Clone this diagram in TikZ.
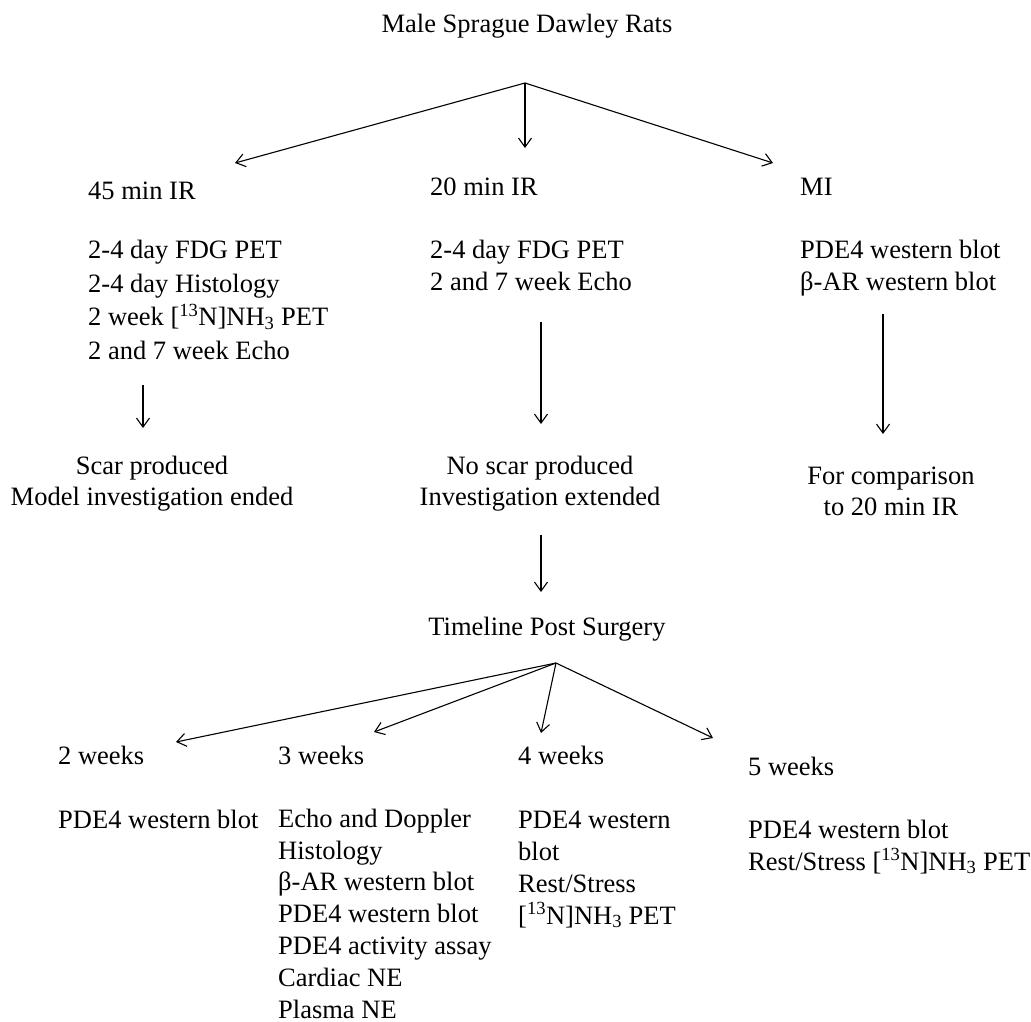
\documentclass[tikz,border=0pt]{standalone}
\usepackage{fontspec}
\setmainfont{Liberation Serif}
\usetikzlibrary{arrows.meta}
\newcommand{\ammonia}{[\textsuperscript{13}N]NH\textsubscript{3}}
\begin{document}
\begin{tikzpicture}[x=1pt,y=-1pt,
  every node/.style={inner sep=0pt,font=\fontsize{26.5}{32}\selectfont},
  lbl/.style={anchor=base west,align=left},
  ctr/.style={anchor=base,align=center},
  arr/.style={-{Straight Barb[length=9pt,width=13pt]},line width=1.1pt}]
\useasboundingbox (0,0) rectangle (1031,1022);
% top level
\node[ctr] (rats) at (527,33) {Male Sprague Dawley Rats};
\coordinate (fork) at (525,83);
\coordinate (e45) at (235,163);
\coordinate (e20) at (525,148);
\coordinate (emi) at (773,163);
\draw[arr] (fork) -- (e45);
\draw[arr] (fork) -- (e20);
\draw[arr] (fork) -- (emi);
% three groups (multi-line nodes sit on their last baseline)
\node[lbl] (ir45) at (88,200) {45 min IR};
\node[lbl,font=\fontsize{26.5}{33.5}\selectfont] (ir45tests) at (88,359)
  {2-4 day FDG PET\\2-4 day Histology\\2 week \ammonia{} PET\\2 and 7 week Echo};
\node[lbl] (ir20) at (430,195) {20 min IR};
\node[lbl] (ir20tests) at (430,290) {2-4 day FDG PET\\2 and 7 week Echo};
\node[lbl] (mi) at (800,195) {MI};
\node[lbl] (mitests) at (800,290) {PDE4 western blot\\β-AR western blot};
% outcomes
\coordinate (a45s) at (143,385);
\coordinate (a45e) at (143,428);
\coordinate (a20s) at (541,322);
\coordinate (a20e) at (541,424);
\coordinate (amis) at (883,314);
\coordinate (amie) at (883,434);
\draw[arr] (a45s) -- (a45e);
\draw[arr] (a20s) -- (a20e);
\draw[arr] (amis) -- (amie);
\node[ctr,font=\fontsize{26.5}{31}\selectfont] (scar) at (152,505) {Scar produced\\Model investigation ended};
\node[ctr,font=\fontsize{26.5}{31}\selectfont] (noscar) at (540,505) {No scar produced\\Investigation extended};
\node[ctr,font=\fontsize{26.5}{31}\selectfont] (compare) at (891,515) {For comparison\\to 20 min IR};
% timeline
\coordinate (ats) at (541,535);
\coordinate (ate) at (541,592);
\draw[arr] (ats) -- (ate);
\node[ctr] (timeline) at (547,635) {Timeline Post Surgery};
\coordinate (tfork) at (556,663);
\coordinate (ew2) at (176,742);
\coordinate (ew3) at (374,732);
\coordinate (ew4) at (541,733);
\coordinate (ew5) at (713,738);
\draw[arr] (tfork) -- (ew2);
\draw[arr] (tfork) -- (ew3);
\draw[arr] (tfork) -- (ew4);
\draw[arr] (tfork) -- (ew5);
\node[lbl] (w2) at (58,764) {2 weeks};
\node[lbl] (w2tests) at (58,828) {PDE4 western blot};
\node[lbl] (w3) at (278,764) {3 weeks};
\node[lbl,font=\fontsize{26.5}{31.8}\selectfont] (w3tests) at (278,1018) {Echo and Doppler\\Histology\\β-AR western blot\\PDE4 western blot\\PDE4 activity assay\\Cardiac NE\\Plasma NE};
\node[lbl] (w4) at (518,764) {4 weeks};
\node[lbl] (w4tests) at (518,924) {PDE4 western\\blot\\Rest/Stress\\\ammonia{} PET};
\node[lbl] (w5) at (748,775) {5 weeks};
\node[lbl] (w5tests) at (748,870) {PDE4 western blot\\Rest/Stress \ammonia{} PET};
\end{tikzpicture}
\end{document}
